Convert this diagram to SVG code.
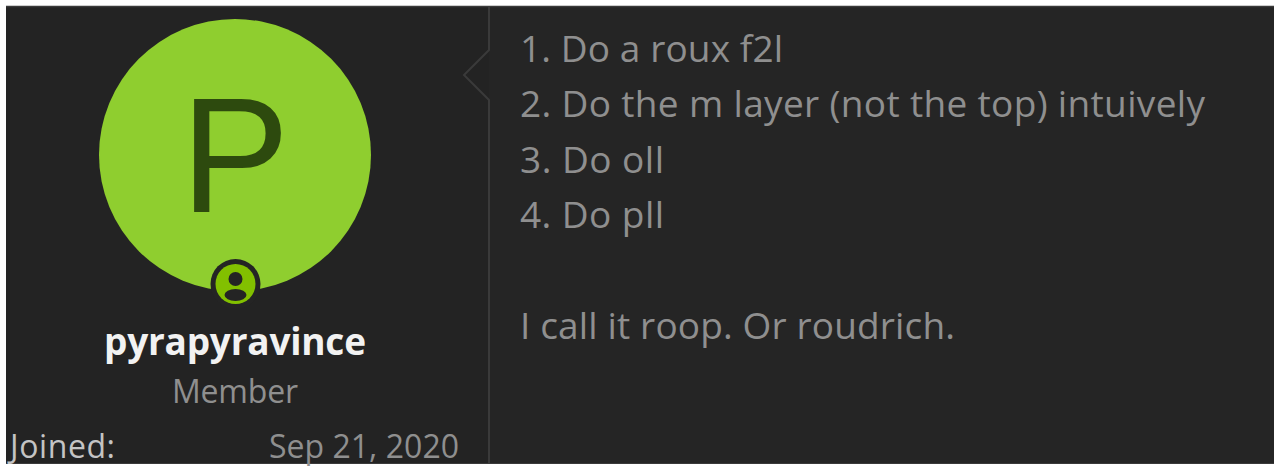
<svg xmlns="http://www.w3.org/2000/svg" width="1280" height="471" viewBox="0 0 1280 471">
<style>
text{font-family:"Open Sans","Noto Sans","Liberation Sans",sans-serif}
.b{font-size:37px;fill:#8f8f8f}
.s{font-size:32px;fill:#8f8f8f}
</style>
<rect width="1280" height="471" fill="#fff"/>
<rect x="6" y="6" width="1268" height="458" fill="#252525"/>
<rect x="6" y="6" width="483" height="458" fill="#232323"/>
<path d="M6 6.500H1274" stroke="#3a3a3a" stroke-width="1.500" fill="none"/>
<path d="M6 463.500H1274" stroke="#3a3a3a" stroke-width="1" fill="none"/>
<path d="M489 6V50L464 75L489 100V464" stroke="#3a3a3a" stroke-width="2" fill="none"/>
<g id="avatar">
<circle cx="235" cy="155" r="136" fill="#8fce2f"/>
<text x="235" y="212" text-anchor="middle" font-size="163" fill="#2d4a0e" style="font-family:'Liberation Sans',sans-serif">P</text>
</g>
<g id="badge">
<circle cx="235.500" cy="284" r="25" fill="#242424"/>
<circle cx="235.500" cy="284" r="20" fill="#82c000"/>
<circle cx="235.500" cy="279" r="7" fill="#242424"/>
<ellipse cx="235.500" cy="295" rx="11" ry="6" fill="#242424"/>
</g>
<g id="user">
<text x="104" y="355" textLength="262" font-size="37" font-weight="700" fill="#f2f2f2">pyrapyravince</text>
<text x="172" y="403" textLength="126" class="s">Member</text>
<text x="10" y="458" textLength="105" font-size="32" fill="#c4c4c4">Joined:</text>
<text x="269" y="458" textLength="190" class="s">Sep 21, 2020</text>
</g>
<g id="post">
<text x="520" y="62" textLength="263" class="b">1. Do a roux f2l</text>
<text x="520" y="117" textLength="685" class="b">2. Do the m layer (not the top) intuively</text>
<text x="520" y="173" textLength="144" class="b">3. Do oll</text>
<text x="520" y="228" textLength="144" class="b">4. Do pll</text>
<text x="520" y="339" textLength="435" class="b">I call it roop. Or roudrich.</text>
</g>
</svg>
